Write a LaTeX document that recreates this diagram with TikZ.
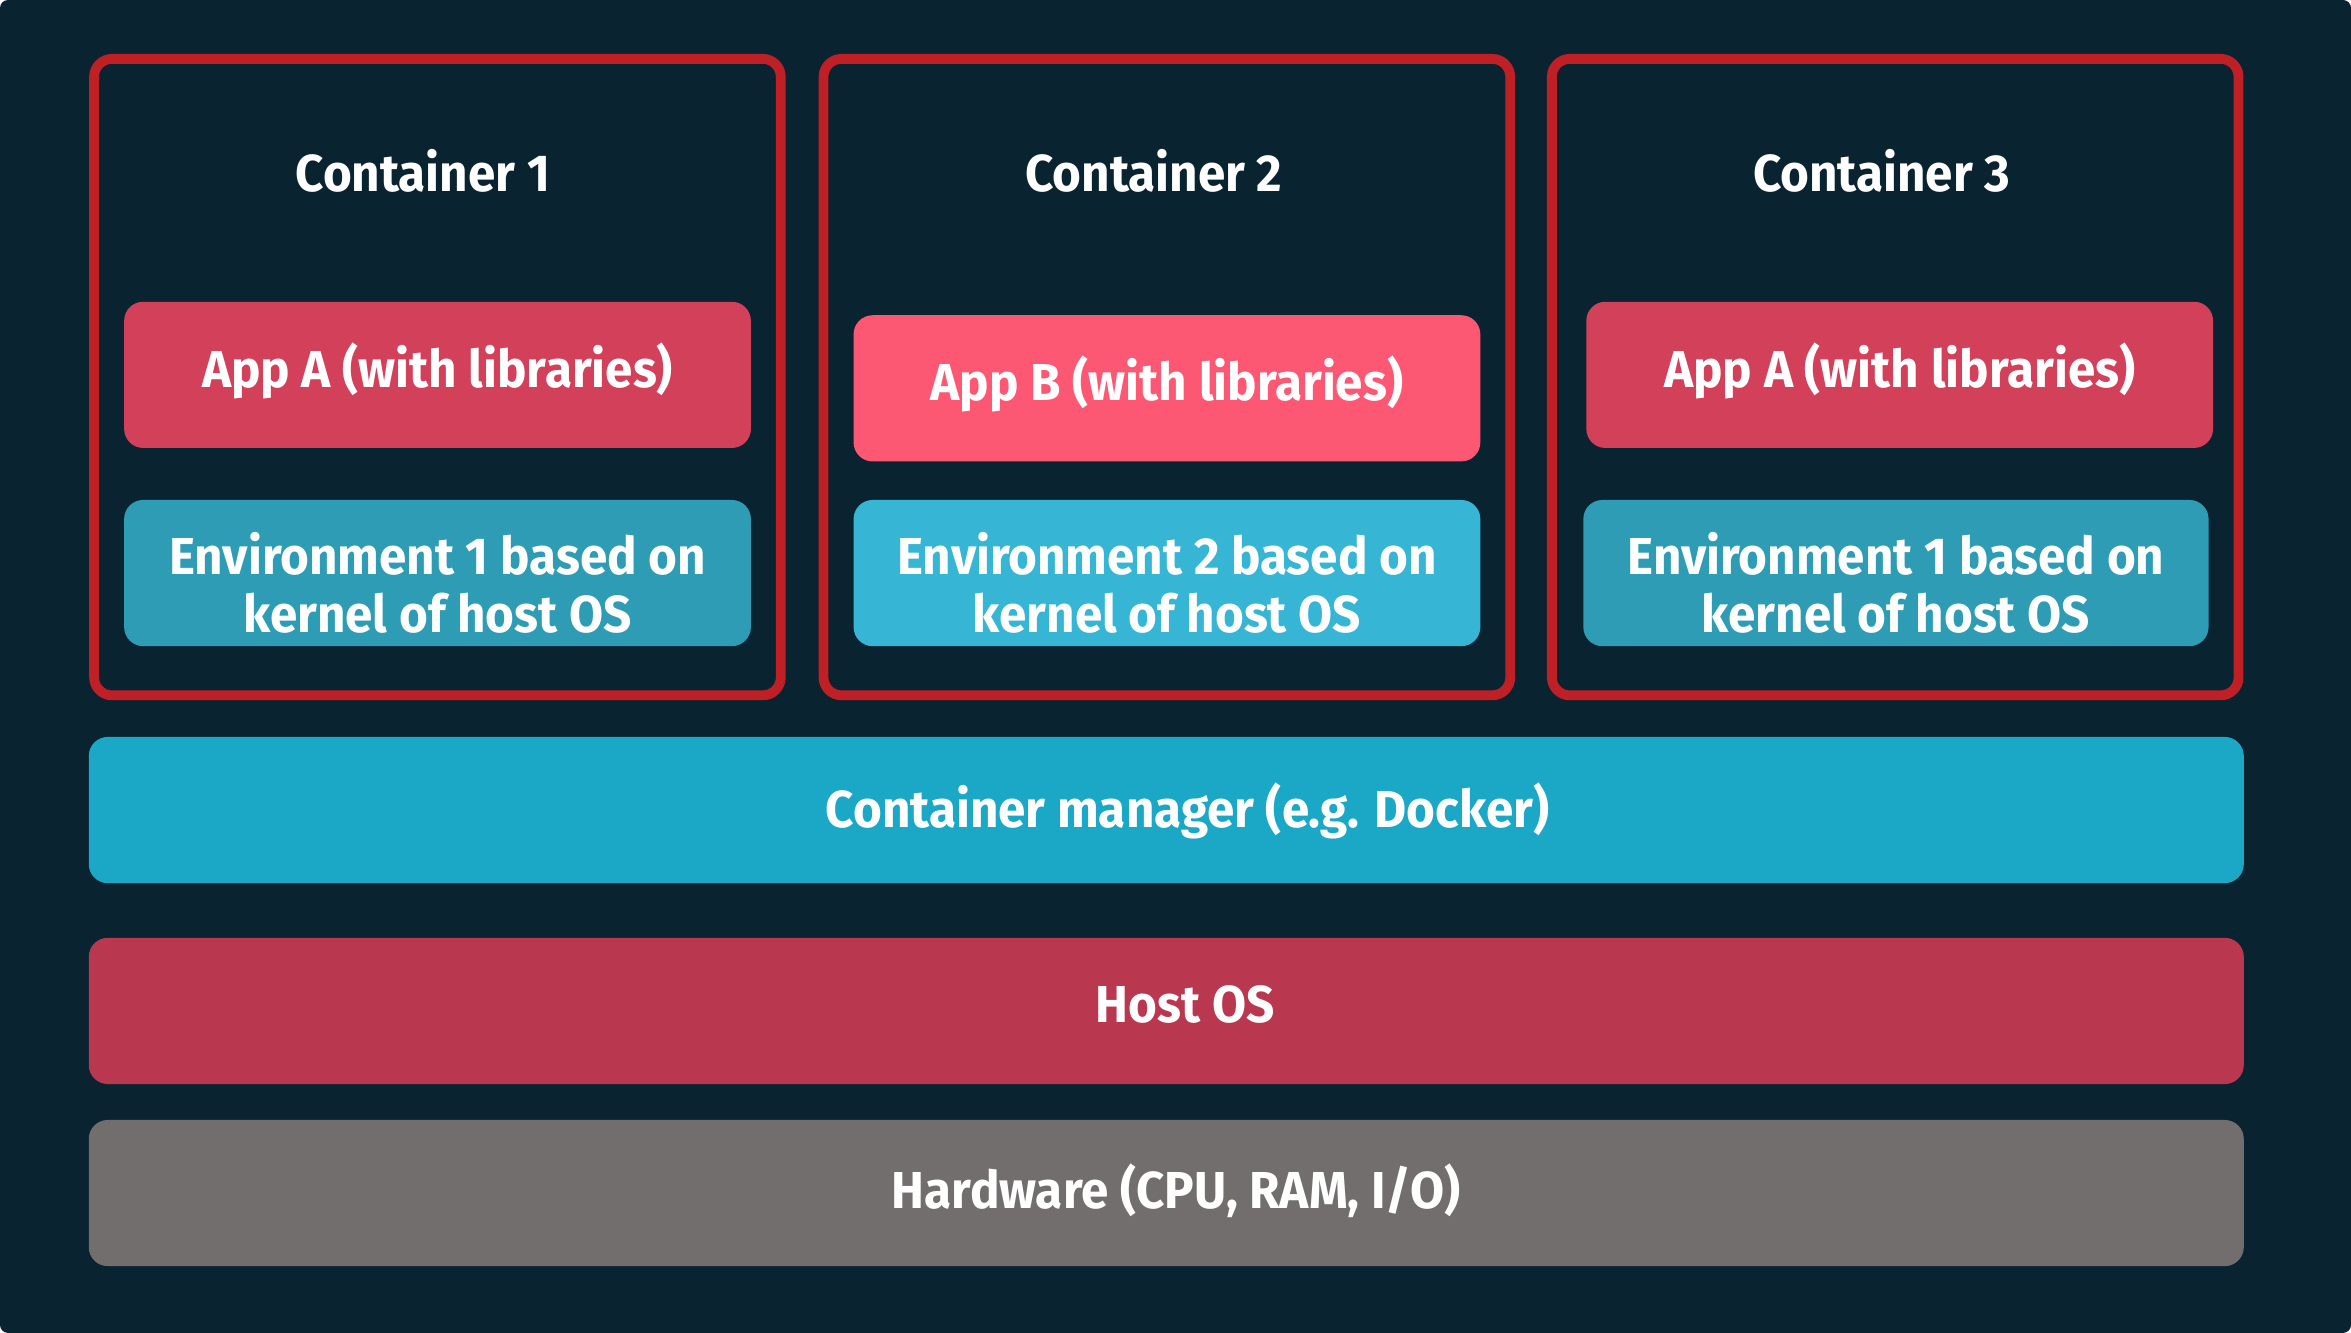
\documentclass[tikz,border=0pt]{standalone}
\usepackage{fontspec}
\newfontfamily\lblfont{Fira Sans}[FakeStretch=0.95]
\definecolor{bgc}{HTML}{0A2331}
\definecolor{redb}{HTML}{BE2026}
\definecolor{appa}{HTML}{D3405A}
\definecolor{appb}{HTML}{FC5874}
\definecolor{envone}{HTML}{2E9CB4}
\definecolor{envtwo}{HTML}{36B5D5}
\definecolor{mgr}{HTML}{1BA8C7}
\definecolor{hostc}{HTML}{B93850}
\definecolor{hwc}{HTML}{726E6D}
\begin{document}
\begin{tikzpicture}[x=0.75pt,y=-0.75pt,
  container/.style={draw=redb, line width=4.9pt, rounded corners=9pt, inner sep=0pt,
    minimum width=458*0.75pt, minimum height=424.5*0.75pt},
  box/.style={rounded corners=9.5pt, inner sep=0pt, minimum height=97.5*0.75pt},
  inbox/.style={box, minimum width=418*0.75pt},
  bar/.style={box, minimum width=1437.3*0.75pt},
  lbl/.style={text=white, font=\lblfont\bfseries\fontsize{26pt}{29.2pt}\selectfont,
    inner sep=0pt, anchor=base, align=center}]
\fill[white] (0,0) rectangle (1568,889);
\useasboundingbox (0,0) rectangle (1568,889);
\fill[bgc, rounded corners=4pt] (0,0) rectangle (1568,889);

% containers
\node[container] (c1) at (291.75,251.5) {};
\node[container] (c2) at (778.25,251.5) {};
\node[container] (c3) at (1264,251.5) {};
\node[lbl] (t1) at (282,127.4) {Container 1};
\node[lbl] (t2) at (769.5,127.4) {Container 2};
\node[lbl] (t3) at (1255,127.4) {Container 3};

% apps
\node[inbox, fill=appa] (a1) at (291.8,250) {};
\node[inbox, fill=appb] (a2) at (778.3,259) {};
\node[inbox, fill=appa] (a3) at (1267,250) {};
\node[lbl] (ta1) at (a1.center |- 0,258.3) {App A (with libraries)};
\node[lbl] (ta2) at (a2.center |- 0,267.1) {App B (with libraries)};
\node[lbl] (ta3) at (a3.center |- 0,258.3) {App A (with libraries)};

% environments
\node[inbox, fill=envone] (e1) at (291.8,382.2) {};
\node[inbox, fill=envtwo] (e2) at (778.3,382.2) {};
\node[inbox, fill=envone, minimum width=417*0.75pt] (e3) at (1264.5,382.2) {};
\node[lbl] (te1) at (e1.center |- 0,421.8) {Environment 1 based on\\kernel of host OS};
\node[lbl] (te2) at (e2.center |- 0,421.8) {Environment 2 based on\\kernel of host OS};
\node[lbl] (te3) at (e3.center |- 0,421.8) {Environment 1 based on\\kernel of host OS};

% bars
\node[bar, fill=mgr] (mgr) at (777.85,540.25) {};
\node[bar, fill=hostc] (host) at (777.85,674.25) {};
\node[bar, fill=hwc] (hw) at (777.85,795.7) {};
\node[lbl] (tm) at (792,552) {Container manager (e.g. Docker)};
\node[lbl] (th) at (790.5,682) {Host OS};
\node[lbl] (thw) at (784.5,806) {Hardware (CPU, RAM, I/O)};
\end{tikzpicture}
\end{document}
